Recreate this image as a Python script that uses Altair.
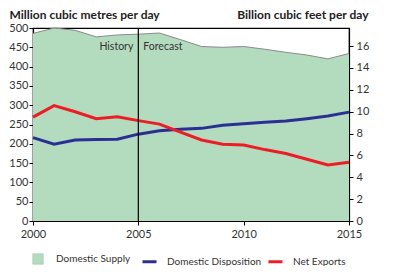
import altair as alt
import pandas as pd

years = list(range(2000, 2016))
supply = [486, 500, 494, 477, 482, 484, 487, 470, 452, 450, 452, 445, 437, 430, 420, 434]
disposition = [216, 199, 210, 211, 212, 225, 234, 238, 240, 248, 252, 256, 259, 265, 272, 282]
exports = [269, 299, 283, 265, 270, 260, 251, 230, 210, 199, 197, 185, 175, 160, 145, 152]

area_name = ["Domestic Supply"]
line_names = ["Domestic Disposition", "Net Exports"]
area_color = ["#b3dcbf"]
line_colors = ["#2b2f93", "#ee1c25"]
CONV = 28.3168  # million m3 per billion ft3
bcf_ticks = [0, 2, 4, 6, 8, 10, 12, 14, 16]
left_ticks = [0, 50, 100, 150, 200, 250, 300, 350, 400, 450, 500]
x_ticks = [2000, 2005, 2010, 2015]

df_supply = pd.DataFrame({"year": years, "value": supply, "series": "Domestic Supply"})
df_lines = pd.concat([
    pd.DataFrame({"year": years, "value": disposition, "series": "Domestic Disposition"}),
    pd.DataFrame({"year": years, "value": exports, "series": "Net Exports"}),
])
df_bcf = pd.DataFrame({"year": years, "bcf": [v / CONV for v in disposition]})
df_labels = pd.DataFrame({"year": [2005, 2005], "value": [452, 452],
                          "text": ["History", "Forecast"]})

FONT = "Lato"

x_enc = alt.X("year:Q", scale=alt.Scale(domain=[2000, 2015], nice=False),
              axis=alt.Axis(values=x_ticks, format="d", title=None, grid=False,
                            labelPadding=3, labelFlush=False))
y_enc = alt.Y("value:Q", scale=alt.Scale(domain=[0, 500], nice=False),
              axis=alt.Axis(values=left_ticks, grid=False,
                            title="Million cubic metres per day",
                            titleAngle=0, titleAlign="left", titleBaseline="alphabetic",
                            titleX=-24, titleY=-10, labelPadding=1,
                            labelOverlap=False, labelFlush=False))

legend_common = dict(orient="none", direction="horizontal", title=None, padding=0,
                     labelFontSize=10, labelColor="#333", labelFont=FONT,
                     columnPadding=0)

fill_enc = alt.Fill("series:N", scale=alt.Scale(domain=area_name, range=area_color),
                    legend=alt.Legend(legendX=-1, legendY=225, symbolType="square",
                                      symbolSize=110, symbolStrokeColor="#9ccaa9",
                                      symbolStrokeWidth=0.6, labelOffset=12,
                                      **legend_common))
stroke_enc = alt.Stroke("series:N", scale=alt.Scale(domain=line_names, range=line_colors),
                        legend=alt.Legend(legendX=108, legendY=225, symbolType="stroke",
                                          symbolSize=196, symbolStrokeWidth=3,
                                          labelOffset=9, **legend_common))

area = alt.Chart(df_supply).mark_area(opacity=1).encode(x=x_enc, y=y_enc, fill=fill_enc)
top_line = alt.Chart(df_supply).mark_line(color="#8a8a8a", strokeWidth=1).encode(
    x=x_enc, y=y_enc)
lines = alt.Chart(df_lines).mark_line(strokeWidth=3).encode(
    x=x_enc, y=y_enc, stroke=stroke_enc)
rule = alt.Chart(df_labels.iloc[:1]).mark_rule(color="black", strokeWidth=1.2).encode(
    x=x_enc)
hist = alt.Chart(df_labels.iloc[:1]).mark_text(
    align="right", baseline="middle", dx=-5, font=FONT, fontSize=10.5, color="#333"
).encode(x=x_enc, y=y_enc, text="text:N")
fore = alt.Chart(df_labels.iloc[1:]).mark_text(
    align="left", baseline="middle", dx=5, font=FONT, fontSize=10.5, color="#333"
).encode(x=x_enc, y=y_enc, text="text:N")

left = alt.layer(area, top_line, lines, rule, hist, fore)

right = alt.Chart(df_bcf).mark_line(opacity=0).encode(
    x=x_enc,
    y=alt.Y("bcf:Q", scale=alt.Scale(domain=[0, 500 / CONV], nice=False),
            axis=alt.Axis(orient="right", values=bcf_ticks, grid=False,
                          title="Billion cubic feet per day", titleAngle=0,
                          titleAlign="right", titleBaseline="alphabetic",
                          titleX=19, titleY=-10, labelPadding=3,
                          labelOverlap=False, labelFlush=False)))

chart = alt.layer(left, right).resolve_scale(y="independent").properties(
    width=316, height=193,
    autosize=alt.AutoSizeParams(type="none"),
    padding={"left": 25, "top": 20, "right": 43, "bottom": 45},
).configure_view(stroke="black", strokeWidth=1.2).configure_axis(
    labelFont=FONT, labelFontSize=11, labelColor="#333",
    titleFont=FONT, titleFontSize=12, titleFontWeight="bold", titleColor="#222",
    domainColor="black", domainWidth=1.2, tickColor="black", tickSize=4,
)

chart.save("out.html", embed_options={"renderer": "svg", "actions": False})
